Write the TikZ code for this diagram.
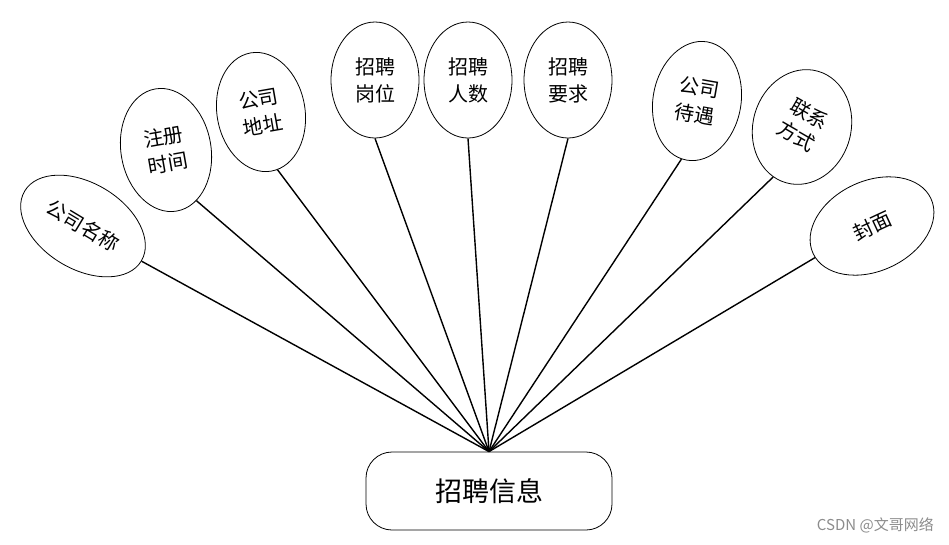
\documentclass[tikz,border=0pt]{standalone}
\usepackage{fontspec}
\newfontfamily\cjk{Noto Sans CJK SC}
\usetikzlibrary{shapes.geometric}
\begin{document}
\begin{tikzpicture}[x=1pt,y=-1pt,
  attr/.style={ellipse,draw=black,line width=0.8pt,inner sep=0pt,align=center,
    font=\cjk\fontsize{20}{27}\selectfont},
  conn/.style={line width=1.4pt,black},
  entity/.style={draw=black,line width=0.8pt,rounded corners=26pt,minimum width=246pt,
    minimum height=78pt,inner sep=0pt,font=\cjk\fontsize{27}{30}\selectfont}]
\useasboundingbox (0,0) rectangle (949,544);
\node[entity] (box) at (489,491) {招聘信息};
\node[attr,minimum width=136pt,minimum height=86pt,rotate=-31] (e1) at (83,226) {公司名称};
\node[attr,minimum width=90pt,minimum height=124pt,rotate=10] (e2) at (166,150) {注册\\时间};
\node[attr,minimum width=88pt,minimum height=120pt,rotate=10] (e3) at (261,112) {公司\\地址};
\node[attr,minimum width=88pt,minimum height=116pt] (e4) at (375,80) {招聘\\岗位};
\node[attr,minimum width=88pt,minimum height=116pt] (e5) at (468,80) {招聘\\人数};
\node[attr,minimum width=88pt,minimum height=116pt] (e6) at (568,80) {招聘\\要求};
\node[attr,minimum width=88pt,minimum height=120pt,rotate=-10] (e7) at (697,101) {公司\\待遇};
\node[attr,minimum width=98pt,minimum height=116pt,rotate=-16] (e8) at (802,127)
  {\rotatebox{-14}{\begin{tabular}{@{}c@{}}联系\\[-1pt]方式\end{tabular}}};
\node[attr,minimum width=130pt,minimum height=90pt,rotate=25] (e9) at (872,226) {封面};
\draw[conn] (e1.0) -- (box.north);
\draw[conn] (e2.-69) -- (box.north);
\draw[conn] (e3.-84) -- (box.north);
\draw[conn] (e4.south) -- (box.north);
\draw[conn] (e5.south) -- (box.north);
\draw[conn] (e6.south) -- (box.north);
\draw[conn] (e7.-95) -- (box.north);
\draw[conn] (e8.-104) -- (box.north);
\draw[conn] (e9.-176) -- (box.north);
\node[font=\cjk\fontsize{15}{18}\selectfont,text=black!45,anchor=east,inner sep=0pt] (wm) at (934,525) {CSDN @文哥网络};
\end{tikzpicture}
\end{document}
